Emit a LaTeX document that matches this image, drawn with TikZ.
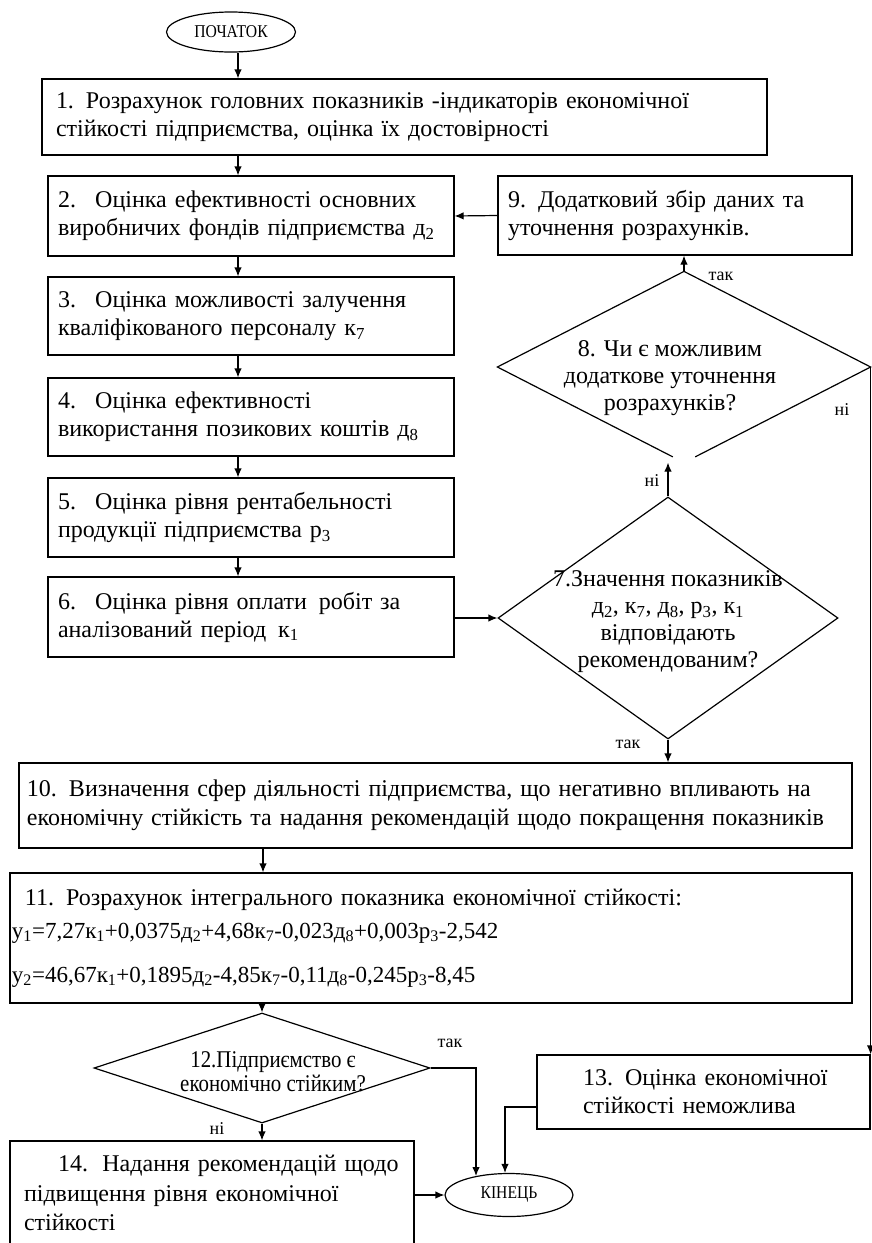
\documentclass[tikz,border=0pt]{standalone}
\usepackage{fontspec}
\setmainfont{Liberation Serif}
\newfontfamily\nar[FakeStretch=0.87]{Liberation Serif}
\usetikzlibrary{shapes.geometric,arrows.meta,calc}
\tikzset{
  box/.style={draw, line width=1.2pt, rectangle, align=left, inner ysep=0pt, font=\fontsize{24}{28}\selectfont},
  oval/.style={draw, line width=1.2pt, ellipse, inner sep=0pt, font=\nar\fontsize{18}{20}\selectfont},
  dia/.style={draw, line width=1.2pt, diamond, inner sep=0pt},
  dtext/.style={align=center, inner sep=0pt, font=\fontsize{24}{27}\selectfont},
  arr/.style={-{Latex[length=9pt,width=7.5pt]}, line width=1.2pt},
  ln/.style={line width=1.2pt},
  lbl/.style={inner sep=1pt, font=\fontsize{18}{20}\selectfont}
}
\begin{document}
\begin{tikzpicture}[x=1pt,y=-1pt]
\useasboundingbox (0,0) rectangle (872,1243);
\fill[white] (0,0) rectangle (872,1243);
\coordinate (ax) at (238,0);
\coordinate (bx) at (263,0);
% nodes
\node[oval, minimum width=129pt, minimum height=40pt] (start) at (231,32) {ПОЧАТОК};
\node[box, inner xsep=14pt, text width=697pt, minimum height=76pt] (b1) at (404.5,117)
 {1. Розрахунок головних показників -індикаторів економічної\\стійкості підприємства, оцінка їх достовірності};
\node[box, inner xsep=10pt, text width=386pt, minimum height=80pt] (b2) at (251,216)
 {2.\hspace{0.8em}Оцінка ефективності основних\\виробничих фондів підприємства д\textsubscript{2}};
\node[box, inner xsep=10pt, text width=386pt, minimum height=78pt] (b3) at (251,316)
 {3.\hspace{0.8em}Оцінка можливості залучення\\кваліфікованого персоналу к\textsubscript{7}};
\node[box, inner xsep=10pt, text width=386pt, minimum height=78pt] (b4) at (251,417)
 {4.\hspace{0.8em}Оцінка ефективності\\використання позикових коштів д\textsubscript{8}};
\node[box, inner xsep=10pt, text width=386pt, minimum height=79pt] (b5) at (251,517.5)
 {5.\hspace{0.8em}Оцінка рівня рентабельності\\продукції підприємства р\textsubscript{3}};
\node[box, inner xsep=10pt, text width=386pt, minimum height=80pt] (b6) at (251,617)
 {6.\hspace{0.8em}Оцінка рівня оплати\hspace{0.5em}робіт за\\аналізований період\hspace{0.5em}к\textsubscript{1}};
\node[box, inner xsep=10pt, text width=334pt, minimum height=79pt] (b9) at (675,215.5)
 {9. Додатковий збір даних та\\уточнення розрахунків.};
% diamond 8 (outline drawn with a gap at the bottom)
\node[dia, draw=none, minimum width=372pt, minimum height=190pt] (d8) at (684,367) {};
\draw[ln] ($(d8.west)!0.94!(d8.south)$) -- (d8.west) -- (d8.north) -- (d8.east) -- ($(d8.east)!0.94!(d8.south)$);
\node[dtext] (t8) at (670,378) {8. Чи є можливим\\додаткове уточнення\\розрахунків?};
% diamond 7
\node[dia, minimum width=340pt, minimum height=242pt] (d7) at (668,618) {};
\node[dtext] (t7) at (668,622)
 {7.Значення показників\\д\textsubscript{2}, к\textsubscript{7}, д\textsubscript{8}, р\textsubscript{3}, к\textsubscript{1}\\відповідають\\рекомендованим?};
\node[box, inner xsep=8pt, text width=817pt, minimum height=85pt, font=\fontsize{24}{29}\selectfont] (b10) at (435.5,805.5)
 {10. Визначення сфер діяльності підприємства, що негативно впливають на\\економічну стійкість та надання рекомендацій щодо покращення показників};
\node[box, inner xsep=2pt, text width=838pt, minimum height=130pt] (b11) at (431,938)
 {\hspace*{13pt}11. Розрахунок інтегрального показника економічної стійкості:\\[5pt]
  {\fontsize{23}{28}\selectfont у\textsubscript{1}=7,27к\textsubscript{1}+0,0375д\textsubscript{2}+4,68к\textsubscript{7}-0,023д\textsubscript{8}+0,003р\textsubscript{3}-2,542}\\[16pt]
  {\fontsize{23}{28}\selectfont у\textsubscript{2}=46,67к\textsubscript{1}+0,1895д\textsubscript{2}-4,85к\textsubscript{7}-0,11д\textsubscript{8}-0,245р\textsubscript{3}-8,45}};
\node[dia, minimum width=336pt, minimum height=110pt] (d12) at (262,1068) {};
\node[dtext, font=\nar\fontsize{24}{24}\selectfont] (t12) at (273,1072) {12.Підприємство є\\економічно стійким?};
\node[box, inner xsep=8pt, text width=317pt, minimum height=74pt] (b13) at (703.5,1092)
 {\hspace*{38pt}13. Оцінка економічної\\\hspace*{38pt}стійкості неможлива};
\node[box, inner xsep=14pt, text width=376pt, minimum height=104pt, font=\fontsize{24}{29.5}\selectfont] (b14) at (212,1193)
 {\hspace*{34pt}14.\hspace{0.6em}Надання рекомендацій щодо\\підвищення рівня економічної\\стійкості};
\node[oval, minimum width=128pt, minimum height=43pt] (end) at (509,1195) {КІНЕЦЬ};
% connectors
\draw[arr] (start.south -| ax) -- (b1.north -| ax);
\draw[arr] (b1.south -| ax) -- (b2.north -| ax);
\draw[arr] (b2.south -| ax) -- (b3.north -| ax);
\draw[arr] (b3.south -| ax) -- (b4.north -| ax);
\draw[arr] (b4.south -| ax) -- (b5.north -| ax);
\draw[arr] (b5.south -| ax) -- (b6.north -| ax);
\draw[arr] (b6.east |- d7.west) -- (d7.west);
\draw[arr] (d7.north) -- (d7.north |- d8.south);
\draw[arr] (d8.north) -- (d8.north |- b9.south);
\draw[arr] (b9.west) -- (b2.east);
\draw[arr] (d8.east) -- (d8.east |- b13.north);
\draw[arr] (d7.south) -- (d7.south |- b10.north);
\draw[arr] (b10.south -| bx) -- (b11.north -| bx);
\draw[arr] (b11.south -| d12.north) -- (d12.north);
\draw[arr] (d12.south) -- (d12.south |- b14.north);
\draw[arr] (d12.east) -| ($(end.center)+(-33,-19)$);
\draw[arr] ($(b13.west)+(0,15)$) -| ($(end.north)+(-4,0)$);
\draw[arr] (end.west -| b14.east) -- (end.west);
% labels
\node[lbl] (l1) at (721,276) {так};
\node[lbl] (l2) at (842,410) {ні};
\node[lbl] (l3) at (652,481) {ні};
\node[lbl] (l4) at (628,744) {так};
\node[lbl] (l5) at (450,1043) {так};
\node[lbl] (l6) at (217,1129) {ні};
\end{tikzpicture}
\end{document}
